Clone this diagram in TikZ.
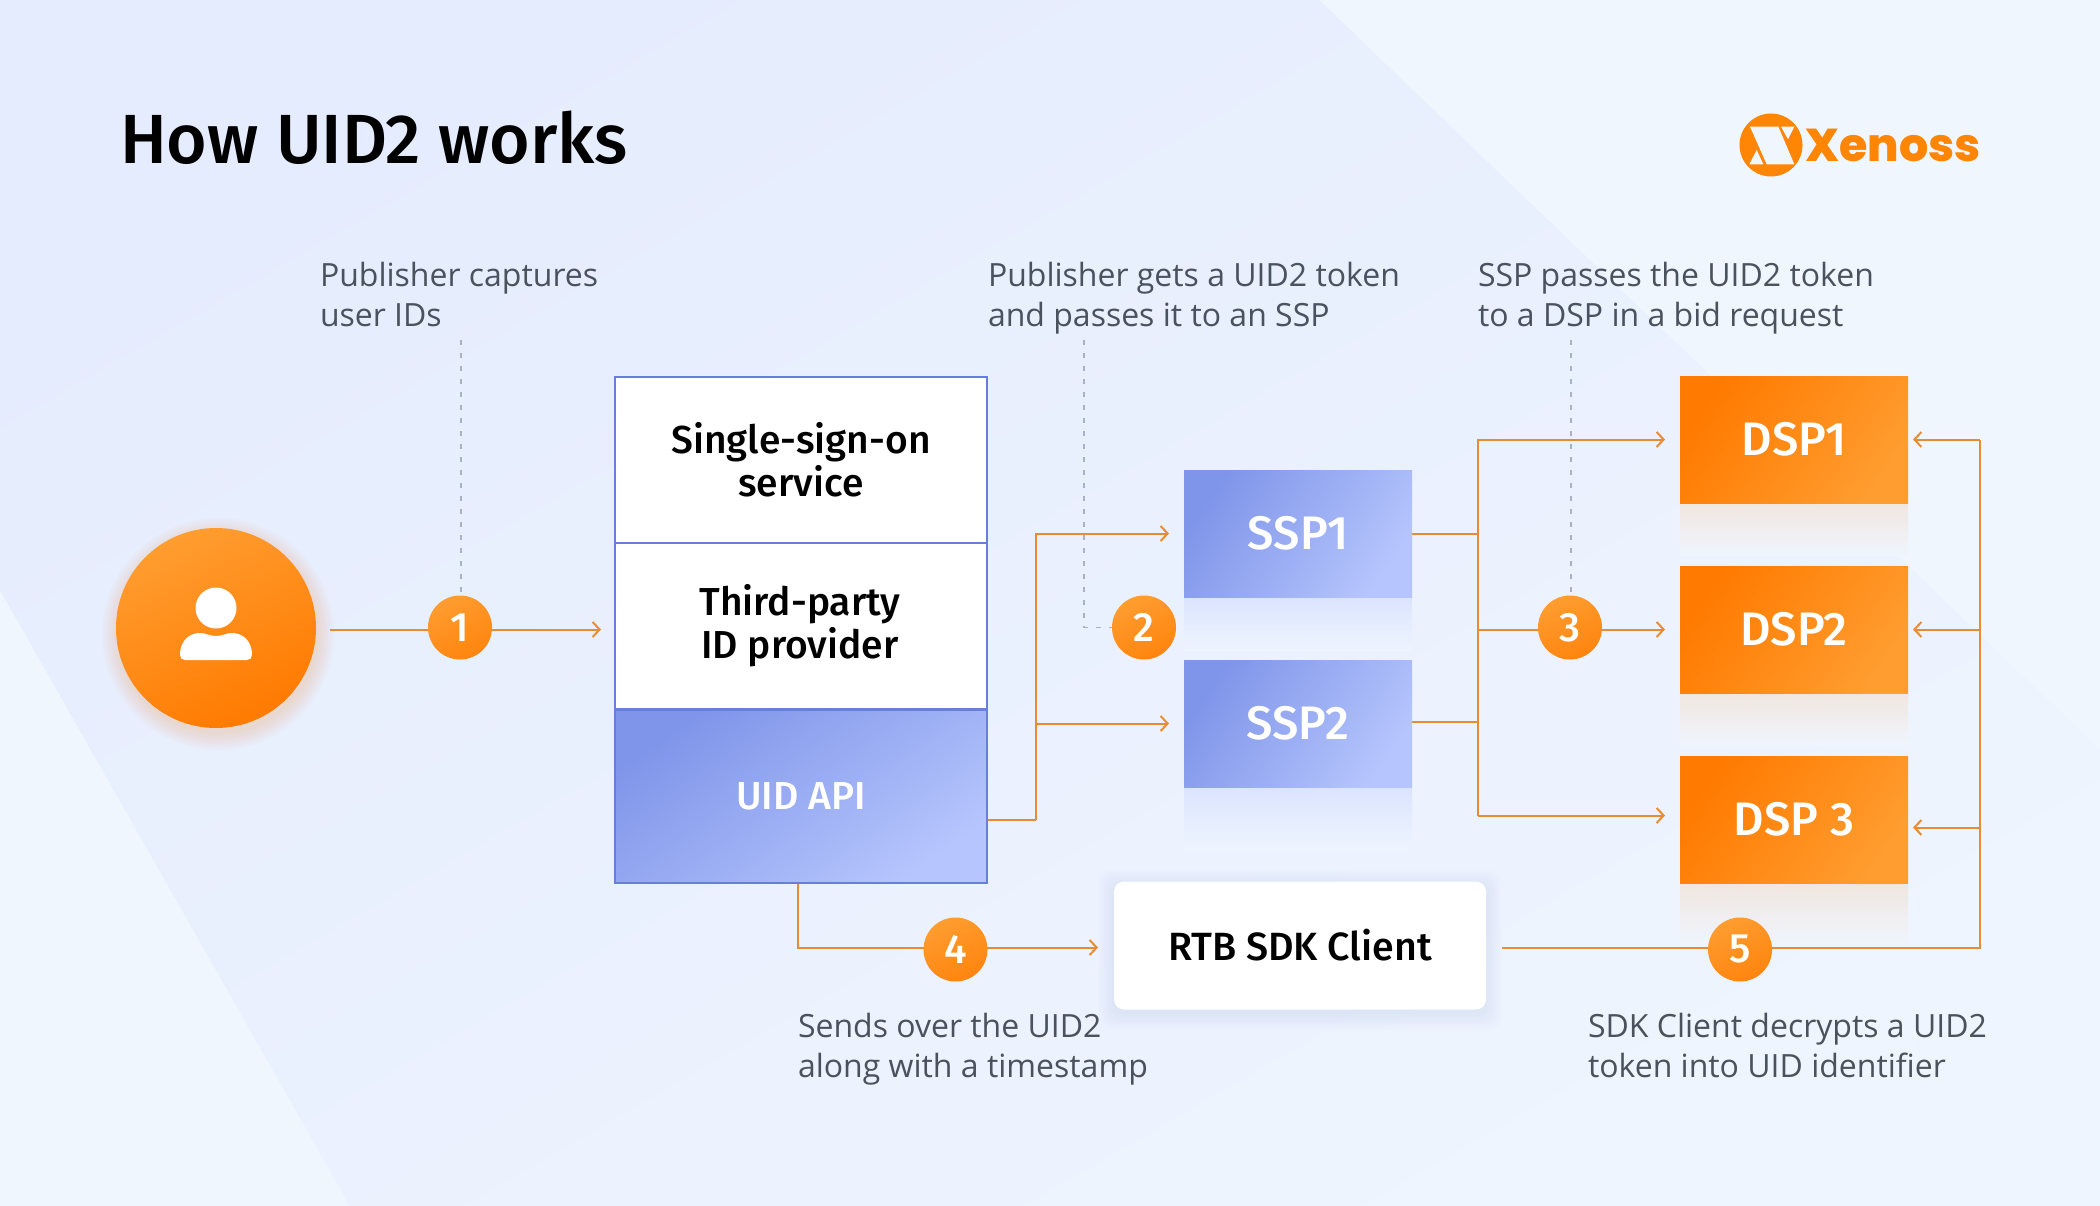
\documentclass[tikz,border=0pt]{standalone}
\usepackage{fontspec}
\usetikzlibrary{arrows.meta}
\newfontfamily\bodyf{Open Sans}
\newfontfamily\dinf{Fira Sans Medium}
\newfontfamily\logof{Poppins ExtraBold}
\definecolor{bgc}{HTML}{EFF6FE}
\definecolor{bgd}{HTML}{E5ECFD}
\definecolor{bge}{HTML}{EFF5FE}
\definecolor{linec}{HTML}{E88C32}
\definecolor{dotc}{HTML}{A8B2C6}
\definecolor{edgec}{HTML}{687EDB}
\definecolor{bluea}{HTML}{7F95E9}
\definecolor{blueb}{HTML}{B6C5FD}
\definecolor{orga}{HTML}{FF7A00}
\definecolor{orgb}{HTML}{FF9D30}
\definecolor{txtc}{HTML}{4A525E}
\definecolor{logoc}{HTML}{FF8505}
\pgfdeclarelayer{base}\pgfdeclarelayer{conn}
\pgfsetlayers{base,conn,main}
\tikzset{
  x=1pt,y=-1pt,
  conn/.style={draw=linec,line width=2pt,line join=miter},
  arr/.style={conn,-{Straight Barb[length=7pt,width=15pt,line width=2pt]}},
  dotl/.style={draw=dotc,line width=1.8pt,dash pattern=on 5pt off 8pt},
  badge/.style={circle,minimum size=64pt,inner sep=0pt,outer sep=0pt,text=white,font=\dinf\fontsize{41}{43}\selectfont,top color=orgb,bottom color=orga!70!orgb,shading angle=25},
  stackw/.style={rectangle,fill=white,draw=edgec,line width=2pt,minimum width=372pt,inner sep=0pt,outer sep=0pt,align=center,text=black,font=\dinf\fontsize{39}{43}\selectfont},
  sspbox/.style={rectangle,minimum width=228pt,minimum height=127pt,inner sep=0pt,outer sep=0pt,top color=bluea,bottom color=blueb,shading angle=55,text=white,font=\dinf\fontsize{47}{50}\selectfont},
  dspbox/.style={rectangle,minimum width=228pt,minimum height=127pt,inner sep=0pt,outer sep=0pt,top color=orga,bottom color=orgb,shading angle=55,text=white,font=\dinf\fontsize{47}{50}\selectfont},
  caption/.style={inner sep=0pt,outer sep=0pt,anchor=north west,align=left,text=txtc,font=\bodyf\fontsize{32}{40}\selectfont},
}
\begin{document}
\begin{tikzpicture}
\useasboundingbox (0,0) rectangle (2100,1206);
\begin{pgfonlayer}{base}
\fill[bgc] (0,0) rectangle (2100,1206);
\shade[top color=bgd,bottom color=bge,shading angle=30] (0,0) -- (1319,0) -- (2100,750) -- (2100,1206) -- (350,1206) -- (0,590) -- cycle;
% reflections
\shade[top color=blueb!35!bge,bottom color=bge!90!bgd] (1184,597) rectangle (1412,650);
\shade[top color=blueb!35!bge,bottom color=bge!90!bgd] (1184,787) rectangle (1412,850);
\shade[top color=orga!12!bge,bottom color=bge] (1680,503) rectangle (1908,555);
\shade[top color=orga!12!bge,bottom color=bge] (1680,693) rectangle (1908,745);
\shade[top color=orga!12!bge,bottom color=bge] (1680,883) rectangle (1908,945);
% soft shadows
\foreach \r in {0,2,...,16}{
  \fill[orga,opacity=0.018] (218,634) circle ({100+\r});
  \fill[bluea,opacity=0.012,rounded corners=12pt] ({1114-\r},{882-\r+4}) rectangle ({1486+\r},{1010+\r+4});
}
\end{pgfonlayer}

% title and logo
\node[inner sep=0pt,anchor=base west,text=black,font=\dinf\fontsize{69.6}{74}\selectfont] (title) at (120,164) {How UID2 works};
\node[circle,fill=logoc,minimum size=63pt,inner sep=0pt] (logo) at (1771,145) {};
\fill[bgc] ({1650+300/3},{80+140/3}) -- ({1650+385/3},{80+140/3}) -- ({1650+433/3},{80+253/3}) -- ({1650+350/3},{80+253/3}) -- cycle;
\fill[bgc] ({1650+393/3},{80+140/3}) -- ({1650+433/3},{80+140/3}) -- ({1650+414/3},{80+178/3}) -- cycle;
\fill[bgc] ({1650+298/3},{80+253/3}) -- ({1650+340/3},{80+253/3}) -- ({1650+320/3},{80+210/3}) -- cycle;
\node[inner sep=0pt,anchor=base west,text=logoc,font=\logof\fontsize{46}{48}\selectfont] (logotext) at (1805,162) {Xenoss};

% person
\node[circle,minimum size=200pt,inner sep=0pt,outer sep=0pt,top color=orgb,bottom color=orga,shading angle=25] (person) at (216,628) {};
\fill[white] (216,608) circle (20.5);
\fill[white] (180,655) .. controls (180,640) and (190,633) .. (200,633) .. controls (206,633) and (209,636) .. (216,636) .. controls (223,636) and (226,633) .. (232,633) .. controls (242,633) and (252,640) .. (252,655) .. controls (252,658) and (250,660) .. (247,660) -- (185,660) .. controls (182,660) and (180,658) .. (180,655) -- cycle;

% stack
\node[stackw,minimum height=166pt] (sso) at (801,459.5) {Single-sign-on\\service};
\node[stackw,minimum height=166pt] (idp) at (801,626) {\hspace*{-2pt}Third-party\\\hspace*{-2pt}ID provider};
\node[rectangle,draw=edgec,line width=2pt,minimum width=372pt,minimum height=173pt,inner sep=0pt,outer sep=0pt,top color=bluea,bottom color=blueb,shading angle=35,text=white,font=\dinf\fontsize{39}{43}\selectfont] (uid) at (801,796) {UID API};

% SSP, DSP
\node[sspbox] (ssp1) at (1298,533.5) {SSP1};
\node[sspbox] (ssp2) at (1298,723.5) {SSP2};
\node[dspbox] (dsp1) at (1794,439.5) {DSP1};
\node[dspbox] (dsp2) at (1794,629.5) {DSP2};
\node[dspbox] (dsp3) at (1794,819.5) {DSP 3};
\node[rectangle,fill=white,rounded corners=10pt,minimum width=372pt,minimum height=128pt,inner sep=0pt,outer sep=0pt,text=black,font=\dinf\fontsize{39.4}{43}\selectfont] (rtb) at (1300,945.5) {RTB SDK Client};

% badges
\node[badge] (b1) at (460,627.5) {1};
\node[badge] (b2) at (1144,627.5) {2};
\node[badge] (b3) at (1570,627.5) {3};
\node[badge] (b4) at (955.5,949.5) {4};
\node[badge] (b5) at (1740,949.5) {5};

% captions
\node[caption] (c1) at (320,262) {Publisher captures\\user IDs};
\node[caption] (c2) at (988,262) {Publisher gets a UID2 token\\and passes it to an SSP};
\node[caption] (c3) at (1478,262) {SSP passes the UID2 token\\to a DSP in a bid request};
\node[caption] (c4) at (798,1013) {Sends over the UID2\\along with a timestamp};
\node[caption] (c5) at (1588,1013) {SDK Client decrypts a UID2\\token into UID identifier};

% free ends
\coordinate (p1) at (330,629.5);
\coordinate (t1) at (601,629.5);
\coordinate (uo) at (987,819.5);
\coordinate (br) at (1036,819.5);
\coordinate (t21) at (1169,533.5);
\coordinate (t22) at (1169,723.5);
\coordinate (s2o) at (1412,721.5);
\coordinate (tr) at (1478,533.5);
\coordinate (t31) at (1665,439.5);
\coordinate (t32) at (1665,629.5);
\coordinate (t33) at (1665,815.5);
\coordinate (d4) at (798,883);
\coordinate (d4b) at (798,947.5);
\coordinate (t4) at (1098,947.5);
\coordinate (r5) at (1502,947.5);
\coordinate (c5r) at (1980,947.5);
\coordinate (r1) at (1913,439.5);
\coordinate (r2) at (1913,629.5);
\coordinate (r3) at (1913,827.5);
\coordinate (dt1) at (461,340);
\coordinate (dt2) at (1084,340);
\coordinate (dt3) at (1571,340);

\begin{pgfonlayer}{conn}
\draw[conn] (p1) -- (b1.center |- p1);
\draw[arr] (b1.center |- t1) -- (t1);
\draw[dotl] (dt1) -- (b1.north -| dt1);
\draw[dotl] (dt2) -- (dt2 |- b2.center) -- (b2.center);
\draw[dotl] (dt3) -- (b3.north -| dt3);
\draw[conn] (uo) -- (br);
\draw[arr] (br) -- (br |- t21) -- (t21);
\draw[arr] (br |- t22) -- (t22);
\draw[conn] (ssp1.east) -- (tr);
\draw[conn] (s2o) -- (s2o -| tr);
\draw[arr] (tr |- t33) -- (tr |- t31) -- (t31);
\draw[arr] (tr |- t33) -- (t33);
\draw[conn] (tr |- t32) -- (b3.center |- t32);
\draw[arr] (b3.center |- t32) -- (t32);
\draw[conn] (d4) -- (d4b) -- (b4.center |- d4b);
\draw[arr] (b4.center |- t4) -- (t4);
\draw[conn] (r5) -- (b5.center |- r5);
\draw[conn] (b5.center |- c5r) -- (c5r) -- (c5r |- r1);
\draw[arr] (c5r |- r1) -- (r1);
\draw[arr] (c5r |- r2) -- (r2);
\draw[arr] (c5r |- r3) -- (r3);
\end{pgfonlayer}
\end{tikzpicture}
\end{document}
